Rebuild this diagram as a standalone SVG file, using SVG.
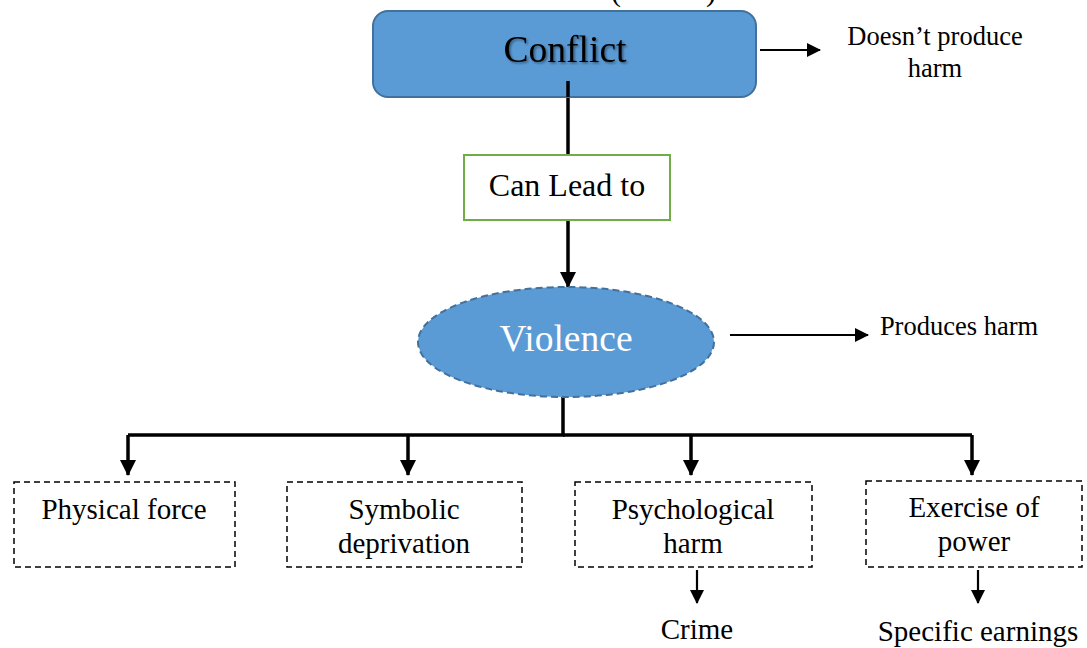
<svg xmlns="http://www.w3.org/2000/svg" width="1087" height="648" viewBox="0 0 1087 648">
<defs>
<marker id="ah" markerUnits="userSpaceOnUse" markerWidth="16" markerHeight="16" viewBox="0 0 16 16" refX="15" refY="8" orient="auto">
<path d="M0,0 L16,8 L0,16 z" fill="#000"/>
</marker>
<marker id="ahs" markerUnits="userSpaceOnUse" markerWidth="14" markerHeight="14" viewBox="0 0 14 14" refX="13" refY="7" orient="auto">
<path d="M0,0 L14,7 L0,14 z" fill="#000"/>
</marker>
<filter id="sh" x="-10%" y="-20%" width="130%" height="150%">
<feDropShadow dx="1.5" dy="1.5" stdDeviation="1" flood-color="#000" flood-opacity="0.45"/>
</filter>
</defs>
<style>
text{font-family:"Liberation Serif","Times New Roman",serif;fill:#000;text-anchor:middle}
.dbox{fill:#fff;stroke:#000;stroke-width:1.5;stroke-dasharray:6,4}
.thick{fill:none;stroke:#000;stroke-width:3.5}
.thin{fill:none;stroke:#000;stroke-width:2.2}
.lbl{font-size:29px}
.side{font-size:26.5px}
</style>
<g id="fragment">
<text x="616" y="1" font-size="30">(</text>
<text x="711" y="1" font-size="30">)</text>
</g>
<g id="connectors">
<line class="thick" x1="568" y1="81" x2="568" y2="155"/>
<line class="thick" x1="568" y1="220" x2="568" y2="287" marker-end="url(#ah)"/>
<line class="thin" x1="760" y1="50" x2="820" y2="50" marker-end="url(#ahs)"/>
<line class="thin" x1="730" y1="335" x2="868" y2="335" marker-end="url(#ahs)"/>
<polyline class="thick" points="563,397 563,435 128,435"/>
<polyline class="thick" points="563,435 972,435"/>
<line class="thick" x1="128" y1="435" x2="128" y2="475" marker-end="url(#ah)"/>
<line class="thick" x1="408" y1="435" x2="408" y2="475" marker-end="url(#ah)"/>
<line class="thick" x1="691" y1="435" x2="691" y2="475" marker-end="url(#ah)"/>
<line class="thick" x1="972" y1="435" x2="972" y2="475" marker-end="url(#ah)"/>
<line class="thin" x1="697" y1="570" x2="697" y2="603" marker-end="url(#ahs)"/>
<line class="thin" x1="978" y1="570" x2="978" y2="603" marker-end="url(#ahs)"/>
</g>
<g id="conflict">
<rect x="373" y="11" width="383" height="86" rx="15" fill="#5B9BD5" stroke="#41719C" stroke-width="2"/>
<text x="565" y="62" font-size="37.5" filter="url(#sh)">Conflict</text>
<line class="thick" x1="568" y1="81" x2="568" y2="97"/>
</g>
<g id="doesnt">
<text class="side" x="935" y="45">Doesn’t produce</text>
<text class="side" x="935" y="77">harm</text>
</g>
<g id="canlead">
<rect x="464" y="155" width="206" height="65" fill="#fff" stroke="#70AD47" stroke-width="2"/>
<text x="567" y="196" font-size="32">Can Lead to</text>
</g>
<g id="violence">
<ellipse cx="566" cy="342" rx="148" ry="55" fill="#5B9BD5" stroke="#41719C" stroke-width="2" stroke-dasharray="7,4"/>
<text x="566" y="351" font-size="37.5" style="fill:#fff">Violence</text>
</g>
<g id="produces">
<text class="side" x="959" y="335">Produces harm</text>
</g>
<g id="physical">
<rect class="dbox" x="14" y="482" width="221" height="85"/>
<text class="lbl" x="124" y="519">Physical force</text>
</g>
<g id="symbolic">
<rect class="dbox" x="287" y="482" width="235" height="85"/>
<text class="lbl" x="404" y="519">Symbolic</text>
<text class="lbl" x="404" y="553">deprivation</text>
</g>
<g id="psychological">
<rect class="dbox" x="575" y="482" width="237" height="85"/>
<text class="lbl" x="693" y="519">Psychological</text>
<text class="lbl" x="693" y="553">harm</text>
</g>
<g id="exercise">
<rect class="dbox" x="866" y="481" width="216" height="86"/>
<text class="lbl" x="974" y="517">Exercise of</text>
<text class="lbl" x="974" y="551">power</text>
</g>
<g id="crime">
<text class="lbl" x="697" y="639">Crime</text>
</g>
<g id="earnings">
<text class="lbl" x="978" y="641">Specific earnings</text>
</g>
</svg>
